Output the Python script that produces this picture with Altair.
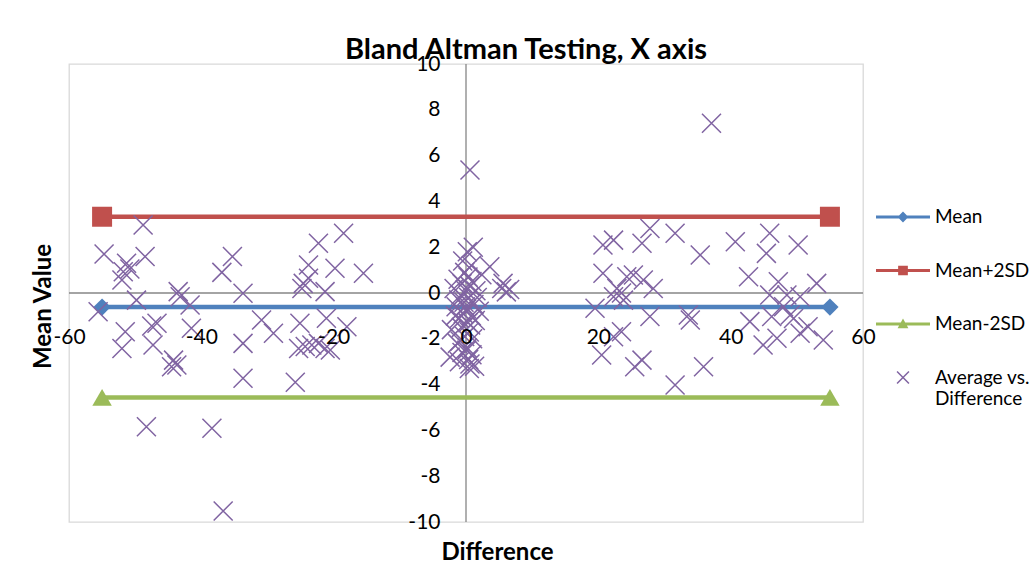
import altair as alt
import pandas as pd

# Series shown in the legend, with Excel-style colours
series_names = ["Mean", "Mean+2SD", "Mean-2SD", "Average vs. Difference"]
series_colors = ["#4F81BD", "#C0504D", "#9BBB59", "#8064A2"]

# Limits of agreement, drawn across the difference range
limit_x = [-55, 55]
mean_value = -0.615
upper_limit = 3.33
lower_limit = -4.56

# Scatter: difference (x) against mean value (y)
diff_values = [
    -48.8, -54.7, -51.3, -48.5, -51.8, -52.0, -50.8, -35.3, -36.9, -43.5,
    -43.2, -41.7, -33.7, -49.8, -55.6, -46.7, -47.5, -41.5, -51.5, -52.0,
    -47.3, -44.2, -44.5, -43.7, -33.7, -33.7, -30.9, -29.1, -48.3, -38.4,
    -36.7,
    -25.8, -25.1, -21.1, -18.0, -25.3, -24.3, -23.3, -22.3, -21.3, -20.5,
    -18.5, -22.3, -23.8, -19.8, -15.5, -24.6, -24.8, -21.3, -23.8,
    0.6, 0.2, 1.1, -0.5, 0.8, 3.6, 2.4, 5.4, 6.1, 6.6, 5.6, -1.2, 0.3,
    -0.6, 0.9, -1.8, 0.0, 1.5, -0.8, 0.4, -0.3, 1.2, -1.5, 0.1, -0.4,
    0.8, -1.0, 1.4, 0.3, -0.7, -2.2, 0.5, -0.2, 1.0, -1.3, 0.2, -0.6,
    0.9, -2.4, 0.4, -1.0, 0.6, 1.3, -0.2, 0.6, -1.1, 2.0, -0.1, 0.7,
    -0.9, 0.1, 1.7, -1.6, 0.5,
    27.8, 31.6, 26.6, 20.7, 22.3, 35.4, 20.7, 24.3, 25.3, 26.8, 28.3,
    22.8, 23.5, 22.3, 23.8, 19.5, 27.8, 33.6, 33.9, 23.5, 22.3, 20.5,
    26.6, 25.5, 31.6, 35.9, 37.1,
    40.7, 45.9, 45.4, 50.2, 42.7, 47.2, 53.0, 45.9, 48.5, 50.5, 48.0,
    49.0, 46.2, 42.9, 49.5, 51.7, 50.5, 47.0, 44.9, 54.0,
]
avg_values = [
    2.97, 1.70, 1.30, 1.59, 0.93, 0.57, 1.05, 1.59, 0.90, 0.06,
    -0.16, -0.52, -0.01, -0.31, -0.82, -1.32, -1.44, -1.54, -1.69, -2.42,
    -2.27, -2.93, -3.22, -3.14, -2.20, -3.72, -1.18, -1.76, -5.84, -5.91,
    -9.52,
    -3.90, -1.32, -1.10, -1.47, -2.42, -2.34, -2.27, -2.20, -2.42, -2.49,
    2.61, 2.17, 1.22, 1.08, 0.86, 0.42, 0.20, 0.06, 0.64,
    5.37, 1.80, 2.00, 1.40, 1.20, 1.15, 0.80, 0.20, 0.05, 0.15, 0.42, 0.60, 0.70,
    0.40, 0.50, 0.20, 0.10, 0.10, -0.10, -0.20, -0.40, -0.50, -0.60, -0.70, -0.90,
    -1.00, -1.10, -1.20, -1.30, -1.50, -1.60, -1.70, -1.90, -2.00, -2.20, -2.40, -2.60,
    -2.70, -2.80, -2.90, -3.00, -3.10, -3.20, 0.90, 0.30, -0.30, -0.80, -0.60, -1.40,
    -2.10, -2.50, -0.20, -1.00, -3.30,
    2.82, 2.61, 2.17, 2.10, 2.31, 1.66, 0.86, 0.71, 0.79, 0.57, 0.20,
    0.20, 0.00, -0.16, -0.31, -0.67, -1.03, -0.96, -1.18, -1.69, -1.91, -2.71,
    -2.93, -3.22, -4.02, -3.22, 7.41,
    2.24, 2.61, 1.73, 2.10, 0.71, 0.49, 0.42, -0.09, -0.09, -0.16, -0.60,
    -0.96, -1.03, -1.25, -1.11, -1.47, -1.76, -1.98, -2.27, -2.05,
]

x_ticks = [-60, -40, -20, 0, 20, 40, 60]
y_ticks = [-10, -8, -6, -4, -2, 0, 2, 4, 6, 8, 10]

FONT = "Lato"
PLOT_W, PLOT_H = 794, 458

scatter_df = pd.DataFrame({"difference": diff_values, "value": avg_values})
limit_values = [mean_value, upper_limit, lower_limit]
lines_df = pd.DataFrame(
    [
        {"series": name, "difference": x, "value": v}
        for name, v in zip(series_names[:3], limit_values)
        for x in limit_x
    ]
)
zero_df = pd.DataFrame({"difference": [0], "value": [0]})

# Plain hyphen-minus in tick labels
plain_number = "datum.value + ''"

# Axes cross at zero, as in a spreadsheet scatter chart
x_axis = alt.Axis(
    values=x_ticks, offset=-PLOT_H / 2, domain=False, ticks=False, tickSize=0,
    grid=False, labelPadding=44, labelBaseline="middle", labelFlush=False,
    labelOverlap=False, labelFont=FONT, labelFontSize=21, labelColor="black",
    labelExpr=plain_number,
    title="Difference", titleFont=FONT, titleFontSize=24, titleFontWeight="bold",
    titleColor="black", titleX=428, titleY=259, titleBaseline="middle",
    titleAlign="center", zindex=1,
)
y_axis = alt.Axis(
    values=y_ticks, offset=-(PLOT_W / 2), domain=False, ticks=False, tickSize=0,
    grid=False, labelPadding=26, labelFlush=False, labelOverlap=False,
    labelFont=FONT, labelFontSize=21, labelColor="black",
    labelExpr=plain_number,
    title="Mean Value", titleFont=FONT, titleFontSize=24, titleFontWeight="bold",
    titleColor="black", titleX=-423, titleY=242, titleAngle=270,
    titleBaseline="middle", titleAlign="center", zindex=1,
)


def xenc():
    return alt.X("difference:Q", scale=alt.Scale(domain=[-60, 60], nice=False, zero=False), axis=x_axis)


def yenc():
    return alt.Y("value:Q", scale=alt.Scale(domain=[-10, 10], nice=False, zero=False), axis=y_axis)


zero_v = alt.Chart(zero_df).mark_rule(color="#868686", strokeWidth=1.3).encode(x=xenc())
zero_h = alt.Chart(zero_df).mark_rule(color="#868686", strokeWidth=1.3).encode(y=yenc())

marker_shapes = ["diamond", "square", "triangle-up"]
marker_sizes = [300, 400, 380]
layers = [zero_v, zero_h]
for name, color, shape, size in zip(series_names[:3], series_colors[:3], marker_shapes, marker_sizes):
    base = alt.Chart(lines_df).transform_filter(alt.datum.series == name)
    layers.append(base.mark_line(color=color, strokeWidth=4.5).encode(x=xenc(), y=yenc()))
    layers.append(
        base.mark_point(shape=shape, filled=True, size=size, color=color, opacity=1).encode(x=xenc(), y=yenc())
    )

x_path = "M-1,-1L1,1M-1,1L1,-1"
layers.append(
    alt.Chart(scatter_df)
    .mark_point(shape=x_path, filled=False, size=361, strokeWidth=1.5, color=series_colors[3], opacity=1)
    .encode(x=xenc(), y=yenc())
)

# Legend symbols: a line segment with the series marker, and a small cross
bar = "M-1,-0.06L1,-0.06L1,0.06L-1,0.06Z"
legend_paths = [
    bar + "M0,-0.2L0.2,0L0,0.2L-0.2,0Z",
    bar + "M-0.18,-0.18L0.18,-0.18L0.18,0.18L-0.18,0.18Z",
    bar + "M0,-0.2L0.2,0.16L-0.2,0.16Z",
    "M-0.2,-0.24L0.24,0.2L0.2,0.24L-0.24,-0.2ZM-0.2,0.24L-0.24,0.2L0.2,-0.24L0.24,-0.2Z",
]
legend = alt.Legend(
    orient="none", legendX=807, legendY=126, title=None, padding=0,
    symbolSize=2916, symbolStrokeWidth=0, symbolOpacity=1, rowPadding=16.5,
    labelFont=FONT, labelFontSize=19, labelColor="black", labelOffset=5,
    labelLimit=200,
    labelExpr="datum.label == 'Average vs. Difference' ? ['Average vs.', 'Difference'] : datum.label",
)
legend_layer = (
    alt.Chart(lines_df)
    .transform_filter("false")
    .mark_point(filled=True, opacity=1, strokeWidth=0)
    .encode(
        x=xenc(),
        y=yenc(),
        color=alt.Color("series:N", scale=alt.Scale(domain=series_names, range=series_colors), legend=legend),
        shape=alt.Shape("series:N", scale=alt.Scale(domain=series_names, range=legend_paths), legend=legend),
    )
)
layers.append(legend_layer)

chart = (
    alt.layer(*layers)
    .properties(
        width=PLOT_W,
        height=PLOT_H,
        autosize=alt.AutoSizeParams(type="none"),
        padding={"left": 69, "top": 64, "right": 168, "bottom": 57},
        background="white",
        title=alt.Title(
            "Bland Altman Testing, X axis", font=FONT, fontSize=29, fontWeight="bold",
            color="black", anchor="middle", dx=60, dy=12, offset=0,
        ),
    )
    .configure_view(stroke="#D9D9D9", strokeWidth=1.3)
)

chart.save("out.html", embed_options={"renderer": "svg", "actions": False})
